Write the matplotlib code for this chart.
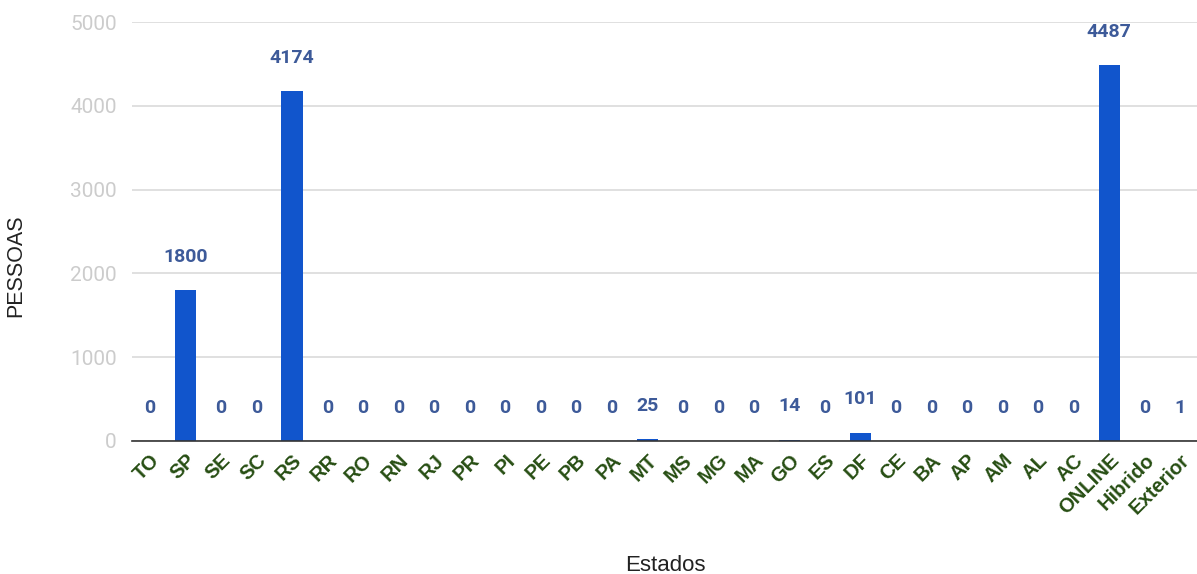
import matplotlib.pyplot as plt
import numpy as np

estados = ['TO', 'SP', 'SE', 'SC', 'RS', 'RR', 'RO', 'RN', 'RJ', 'PR', 'PI', 'PE',
           'PB', 'PA', 'MT', 'MS', 'MG', 'MA', 'GO', 'ES', 'DF', 'CE', 'BA', 'AP',
           'AM', 'AL', 'AC', 'ONLINE', 'Hibrido', 'Exterior']
pessoas = [0, 1800, 0, 0, 4174, 0, 0, 0, 0, 0, 0, 0,
           0, 0, 25, 0, 0, 0, 14, 0, 101, 0, 0, 0,
           0, 0, 0, 4487, 0, 1]
yticks = [0, 1000, 2000, 3000, 4000, 5000]

plt.rcParams['font.family'] = ['Roboto', 'DejaVu Sans']
arial = ['Liberation Sans', 'DejaVu Sans']

fig = plt.figure(figsize=(11.97, 5.74), dpi=100)
ax = fig.add_axes([132 / 1197, 1 - 441 / 574, (1198 - 132) / 1197, (441 - 22) / 574])

x = np.arange(len(estados))
ax.bar(x, pessoas, width=0.6, color='#1155cc', zorder=3)

# valor em cima de cada barra
for xi, v in zip(x, pessoas):
    ax.annotate(str(v), (xi, v), xytext=(0, 24), textcoords='offset points',
                ha='center', va='center', fontsize=14, fontweight='bold',
                color='#3d5a99', zorder=4)

ax.set_xlim(-0.5, len(estados) - 0.5)
ax.set_ylim(0, 5000)
ax.set_yticks(yticks)
ax.set_yticklabels([str(t) for t in yticks], fontsize=15, color='#cccccc')
ax.set_xticks(x)
ax.set_xticklabels(estados, rotation=45, ha='right', rotation_mode='anchor',
                   fontsize=14.5, fontweight='bold', color='#274e13', family=arial)
ax.tick_params(axis='both', length=0)
ax.tick_params(axis='x', pad=7)
ax.tick_params(axis='y', pad=11)

ax.grid(axis='y', color='#dddddd', linewidth=1.3, zorder=0)
for s in ['top', 'right', 'left']:
    ax.spines[s].set_visible(False)
ax.spines['bottom'].set_color('#333333')
ax.spines['bottom'].set_linewidth(1.2)
ax.spines['bottom'].set_zorder(4)

ax.set_ylabel('PESSOAS', fontsize=15.5, color='#222222', family=arial)
ax.yaxis.set_label_coords(-0.099, 0.418)
ax.set_xlabel('Estados', fontsize=16, color='#222222', family=arial)
ax.xaxis.set_label_coords(0.5, -0.272)

fig.savefig('out.png', dpi=100)
